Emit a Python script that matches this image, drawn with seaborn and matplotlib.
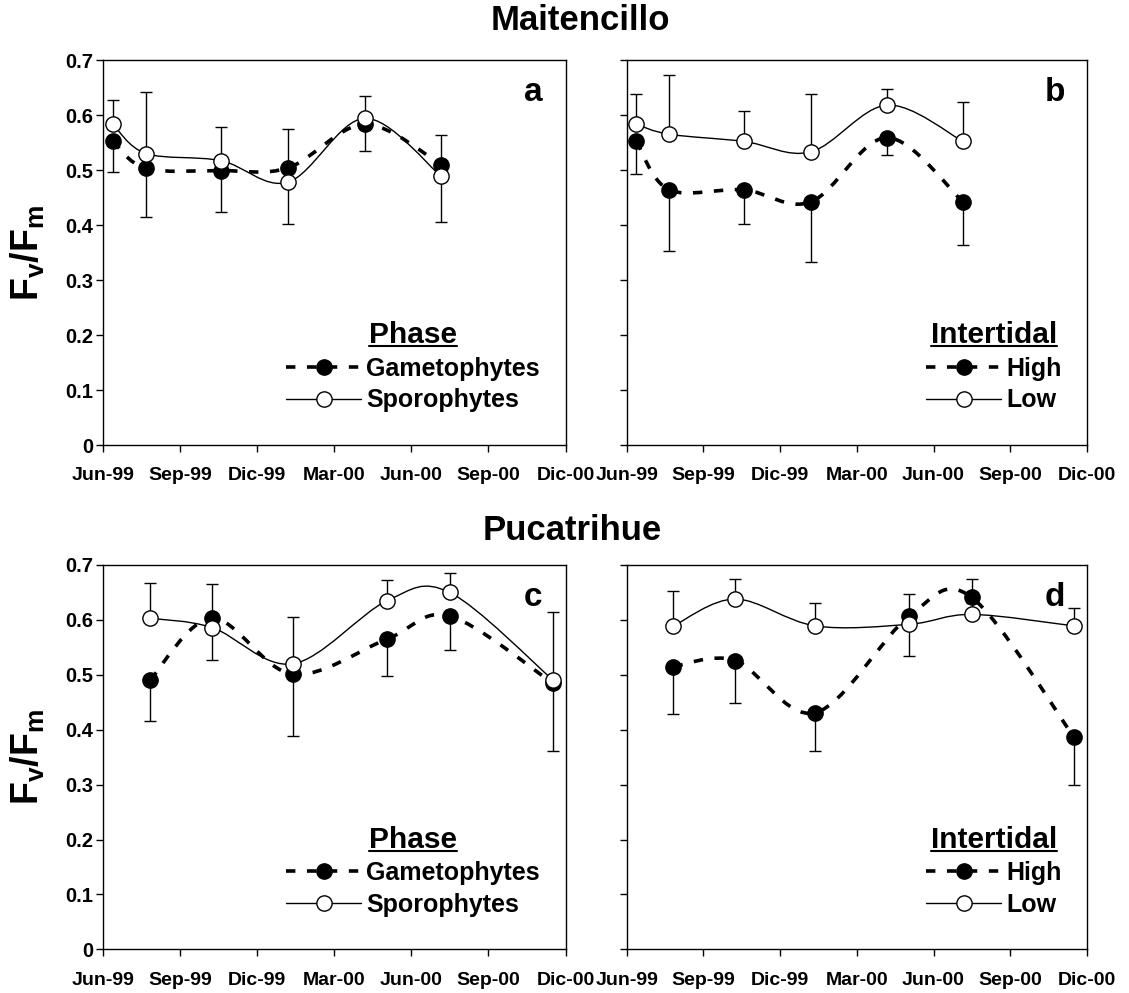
import numpy as np
import pandas as pd
import matplotlib
matplotlib.use("Agg")
import matplotlib.pyplot as plt
import seaborn as sns
from matplotlib.path import Path
from matplotlib.patches import PathPatch
from matplotlib.lines import Line2D

# ---------------- data (months since 1 Jun 1999) ----------------
months_ab = [0.38, 1.66, 4.58, 7.20, 10.18, 13.15]
months_cd = [1.83, 4.24, 7.38, 11.05, 13.49, 17.50]

# Panel a: Maitencillo, Phase
a_gam = [0.552, 0.503, 0.499, 0.504, 0.583, 0.510]
a_gam_sd = [0.055, 0.088, 0.076, 0.102, 0.048, 0.105]
a_spo = [0.583, 0.530, 0.517, 0.478, 0.594, 0.489]
a_spo_sd = [0.044, 0.111, 0.061, 0.096, 0.041, 0.075]

# Panel b: Maitencillo, Intertidal
b_high = [0.552, 0.464, 0.464, 0.442, 0.559, 0.442]
b_high_sd = [0.059, 0.111, 0.062, 0.109, 0.031, 0.078]
b_low = [0.583, 0.565, 0.552, 0.533, 0.618, 0.552]
b_low_sd = [0.055, 0.107, 0.056, 0.105, 0.029, 0.071]

# Panel c: Pucatrihue, Phase
c_gam = [0.491, 0.603, 0.501, 0.565, 0.607, 0.485]
c_gam_sd = [0.076, 0.076, 0.112, 0.067, 0.062, 0.123]
c_spo = [0.603, 0.586, 0.520, 0.635, 0.650, 0.491]
c_spo_sd = [0.065, 0.079, 0.085, 0.037, 0.036, 0.124]

# Panel d: Pucatrihue, Intertidal
d_high = [0.515, 0.526, 0.431, 0.607, 0.641, 0.386]
d_high_sd = [0.086, 0.077, 0.069, 0.072, 0.010, 0.087]
d_low = [0.589, 0.638, 0.589, 0.592, 0.610, 0.589]
d_low_sd = [0.064, 0.037, 0.041, 0.056, 0.065, 0.033]

tick_months = [0, 3, 6, 9, 12, 15, 18]
tick_labels = ["Jun-99", "Sep-99", "Dic-99", "Mar-00", "Jun-00", "Sep-00", "Dic-00"]
y_ticks = [0, 0.1, 0.2, 0.3, 0.4, 0.5, 0.6, 0.7]

site_titles = ["Maitencillo", "Pucatrihue"]
legend_titles = ["Phase", "Intertidal"]
legend_labels = [["Gametophytes", "Sporophytes"], ["High", "Low"]]
panel_letters = ["a", "b", "c", "d"]

# ---------------- style ----------------
sns.set_style("ticks")
plt.rcParams["font.family"] = ["Liberation Sans", "DejaVu Sans"]
plt.rcParams["font.weight"] = "bold"
plt.rcParams["text.color"] = "black"
plt.rcParams["axes.labelcolor"] = "black"
plt.rcParams["xtick.color"] = "black"
plt.rcParams["ytick.color"] = "black"
plt.rcParams["mathtext.fontset"] = "custom"
plt.rcParams["mathtext.rm"] = "Liberation Sans:bold"
plt.rcParams["mathtext.bf"] = "Liberation Sans:bold"
plt.rcParams["mathtext.it"] = "Liberation Sans:bold"

DASH = (0, (2.6, 3.2))
DASH_LW = 2.6
SOLID_LW = 1.0
MS = 11

fig = plt.figure(figsize=(11.29, 9.93), dpi=100)

W, H = 1129, 993
def add_ax(left, top, right, bottom):
    return fig.add_axes([left / W, 1 - bottom / H, (right - left) / W, (bottom - top) / H])

axes = [
    add_ax(103.3, 60, 565.5, 445),
    add_ax(626.7, 60, 1087, 445),
    add_ax(103.3, 565, 565.5, 949.3),
    add_ax(626.7, 565, 1087, 949.3),
]


def smooth_curve(ax, x, y, **kw):
    pts = np.column_stack([x, y]).astype(float)
    n = len(pts)
    verts = [pts[0]]
    codes = [Path.MOVETO]
    for i in range(n - 1):
        p0 = pts[i - 1] if i > 0 else pts[i]
        p1 = pts[i]
        p2 = pts[i + 1]
        p3 = pts[i + 2] if i + 2 < n else pts[i + 1]
        c1 = p1 + (p2 - p0) / 6.0
        c2 = p2 - (p3 - p1) / 6.0
        verts += [c1, c2, p2]
        codes += [Path.CURVE4] * 3
    ax.add_patch(PathPatch(Path(verts, codes), fill=False, **kw))


panels = [
    (months_ab, a_gam, a_gam_sd, a_spo, a_spo_sd),
    (months_ab, b_high, b_high_sd, b_low, b_low_sd),
    (months_cd, c_gam, c_gam_sd, c_spo, c_spo_sd),
    (months_cd, d_high, d_high_sd, d_low, d_low_sd),
]

for idx, (ax, (xm, yf, sdf, yo, sdo)) in enumerate(zip(axes, panels)):
    df = pd.DataFrame({"month": xm, "filled": yf, "open": yo})
    # error bars: filled series downward, open series upward
    ax.errorbar(xm, yf, yerr=[sdf, np.zeros(len(sdf))], fmt="none", ecolor="black",
                elinewidth=1.0, capsize=4, capthick=1.0, zorder=2)
    ax.errorbar(xm, yo, yerr=[np.zeros(len(sdo)), sdo], fmt="none", ecolor="black",
                elinewidth=1.0, capsize=4, capthick=1.0, zorder=2)
    smooth_curve(ax, xm, yf, edgecolor="black", lw=DASH_LW, linestyle=DASH, zorder=3)
    smooth_curve(ax, xm, yo, edgecolor="black", lw=SOLID_LW, zorder=3)
    sns.scatterplot(data=df, x="month", y="filled", ax=ax, color="black", edgecolor="black",
                    s=MS ** 2, linewidth=1.0, zorder=5, legend=False)
    sns.scatterplot(data=df, x="month", y="open", ax=ax, color="white", edgecolor="black",
                    s=MS ** 2, linewidth=1.0, zorder=6, legend=False)

    ax.set_xlim(0, 18)
    ax.set_ylim(0, 0.7)
    ax.set_xticks(tick_months)
    ax.set_xticklabels(tick_labels, fontsize=14, fontweight="bold")
    ax.set_yticks(y_ticks)
    if idx % 2 == 0:
        ax.set_yticklabels([f"{v:g}" for v in y_ticks], fontsize=14.5, fontweight="bold")
    else:
        ax.set_yticklabels([])
    ax.tick_params(axis="x", direction="out", length=5, width=1.0, pad=11, colors="black")
    ax.tick_params(axis="y", direction="out", length=5, width=1.0, pad=2, colors="black")
    ax.set_xlabel("")
    ax.set_ylabel("")
    for sp in ax.spines.values():
        sp.set_visible(True)
        sp.set_color("black")
        sp.set_linewidth(1.0)

    ax.text(0.93, 0.915, panel_letters[idx], transform=ax.transAxes, ha="center", va="center",
            fontsize=24, fontweight="bold", color="black")

    kind = idx % 2
    handles = [
        Line2D([], [], color="black", lw=DASH_LW, linestyle=DASH, marker="o", markersize=MS,
               markerfacecolor="black", markeredgecolor="black"),
        Line2D([], [], color="black", lw=SOLID_LW, marker="o", markersize=MS,
               markerfacecolor="white", markeredgecolor="black"),
    ]
    leg = ax.legend(handles, legend_labels[kind], title=legend_titles[kind], loc="lower right",
                    bbox_to_anchor=(0.945, 0.085), frameon=False, fontsize=18,
                    title_fontproperties={"size": 21.5, "weight": "bold"},
                    handlelength=3.0, handletextpad=0.2, labelspacing=0.3,
                    borderpad=0, borderaxespad=0)
    for t in leg.get_texts():
        t.set_fontweight("bold")
        t.set_color("black")
    leg.get_title().set_color("black")

# y labels
for cy in [(60 + 445) / 2, (565 + 949.3) / 2]:
    fig.text(28 / W, 1 - cy / H, r"$\mathbf{F_v/F_m}$", rotation=90, ha="center", va="center",
             fontsize=27, color="black")

# site titles
fig.text(580 / W, 1 - 20 / H, site_titles[0], ha="center", va="center", fontsize=25,
         fontweight="bold", color="black")
fig.text(572 / W, 1 - 530 / H, site_titles[1], ha="center", va="center", fontsize=25,
         fontweight="bold", color="black")

# underline legend titles
fig.canvas.draw()
renderer = fig.canvas.get_renderer()
for ax in axes:
    leg = ax.get_legend()
    bb = leg.get_title().get_window_extent(renderer)
    inv = fig.transFigure.inverted()
    (x0, y0), (x1, y1) = inv.transform([(bb.x0, bb.y0 + 3), (bb.x1, bb.y0 + 3)])
    fig.add_artist(Line2D([x0, x1], [y0, y1], transform=fig.transFigure, color="black", lw=1.5))

fig.savefig("out.png", dpi=100)
